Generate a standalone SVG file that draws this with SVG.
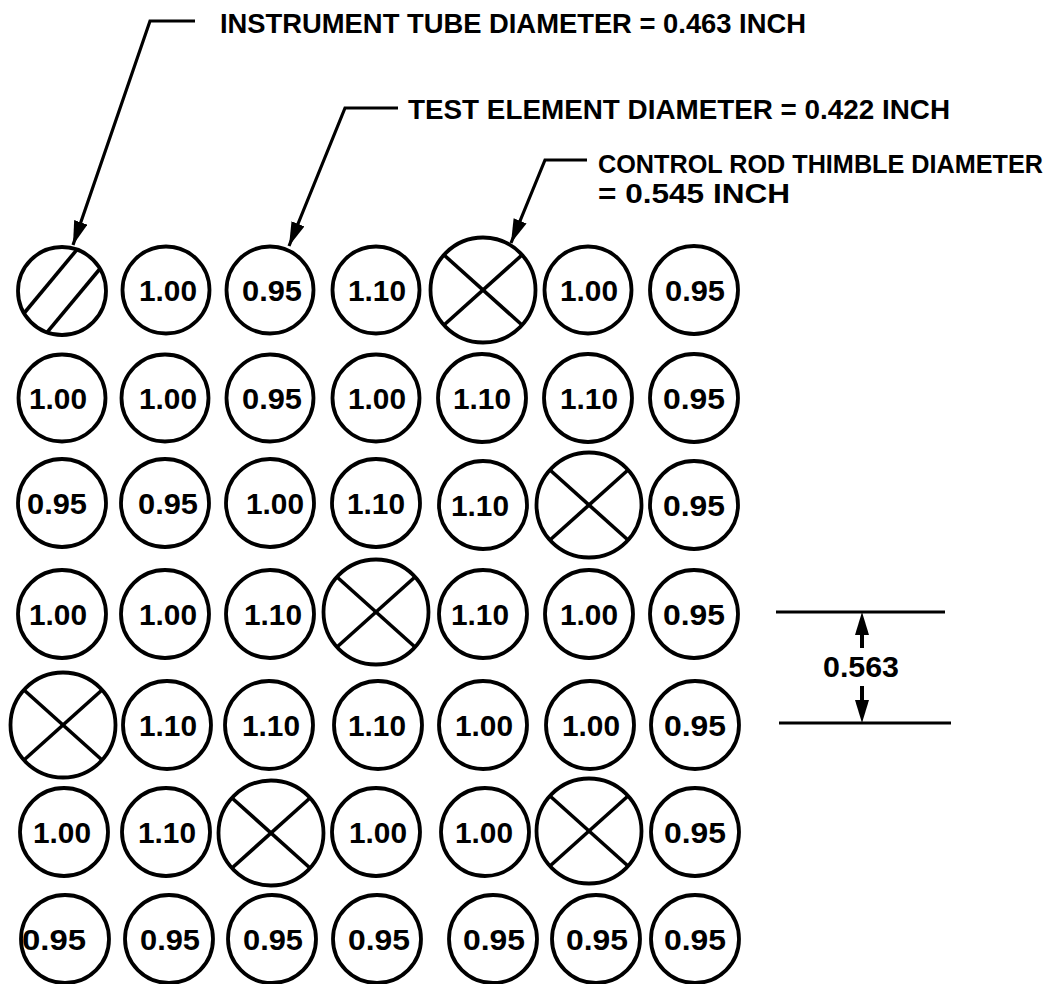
<svg xmlns="http://www.w3.org/2000/svg" xmlns:xlink="http://www.w3.org/1999/xlink" width="1054" height="984" viewBox="0 0 1054 984">
<style>
.c{fill:none;stroke:#000;stroke-width:3.8}
.x{stroke:#000;stroke-width:3.6;stroke-linecap:butt}
.v{font-family:"Liberation Sans",Arial,sans-serif;font-weight:bold;font-size:29px;text-anchor:middle;fill:#000}
.lbl{font-family:"Liberation Sans",Arial,sans-serif;font-weight:bold;font-size:28px;fill:#000}
.ld{fill:none;stroke:#000;stroke-width:3.2;stroke-linejoin:miter}
.dim{stroke:#000;stroke-width:3.2}
.stem{stroke:#000;stroke-width:4}
</style>
<defs>
<marker id="ah" markerUnits="userSpaceOnUse" markerWidth="26" markerHeight="16" refX="24" refY="7" orient="auto">
<path d="M0,0 L24,7 L0,14 Z" fill="#000"/>
</marker>
<g id="crt">
<circle class="c" cx="0" cy="0" r="52.5"/>
<line class="x" x1="-39" y1="-35" x2="39" y2="35"/>
<line class="x" x1="39" y1="-35" x2="-39" y2="35"/>
</g>
</defs>
<rect width="1054" height="984" fill="#fff"/>

<g id="labels">
<text class="lbl" x="220" y="33" textLength="586" lengthAdjust="spacingAndGlyphs">INSTRUMENT TUBE DIAMETER = 0.463 INCH</text>
<text class="lbl" x="408" y="119" textLength="542" lengthAdjust="spacingAndGlyphs">TEST ELEMENT DIAMETER = 0.422 INCH</text>
<text class="lbl" x="598" y="173" style="font-size:25.5px" textLength="445" lengthAdjust="spacingAndGlyphs">CONTROL ROD THIMBLE DIAMETER</text>
<text class="lbl" x="598" y="203" textLength="192" lengthAdjust="spacingAndGlyphs">= 0.545 INCH</text>
</g>

<g id="connectors">
<path class="ld" d="M195,21 L150,21 L73,245" marker-end="url(#ah)"/>
<path class="ld" d="M398,108 L345,108 L289,246" marker-end="url(#ah)"/>
<path class="ld" d="M587,160 L545,160 L511,243" marker-end="url(#ah)"/>
<g id="dimension">
<line class="dim" x1="776" y1="612" x2="945" y2="612"/>
<line class="dim" x1="779" y1="723" x2="951" y2="723"/>
<line class="stem" x1="862" y1="630" x2="862" y2="648"/>
<polygon points="862,612 855,635 869,635" fill="#000"/>
<line class="stem" x1="862" y1="686" x2="862" y2="705"/>
<polygon points="862,723 855,700 869,700" fill="#000"/>
<text class="v" x="861" y="677" textLength="76" lengthAdjust="spacingAndGlyphs">0.563</text>
</g>
</g>

<!-- Row 1 -->
<g id="r1c1"><circle class="c" cx="62" cy="291" r="44"/><line class="x" x1="77.6" y1="248.8" x2="23.4" y2="314"/><line class="x" x1="100.6" y1="268" x2="46.4" y2="333.2"/></g>
<g id="r1c2"><circle class="c" cx="166" cy="290" r="43.5"/><text class="v" x="168" y="300.5" textLength="58" lengthAdjust="spacingAndGlyphs">1.00</text></g>
<g id="r1c3"><circle class="c" cx="270" cy="290" r="43.5"/><text class="v" x="272" y="300.5" textLength="60" lengthAdjust="spacingAndGlyphs">0.95</text></g>
<g id="r1c4"><circle class="c" cx="376" cy="290" r="43.5"/><text class="v" x="377" y="300.5" textLength="58" lengthAdjust="spacingAndGlyphs">1.10</text></g>
<g id="r1c5"><use xlink:href="#crt" x="483" y="290"/></g>
<g id="r1c6"><circle class="c" cx="588" cy="290" r="43.5"/><text class="v" x="589" y="300.5" textLength="58" lengthAdjust="spacingAndGlyphs">1.00</text></g>
<g id="r1c7"><circle class="c" cx="694" cy="290" r="44"/><text class="v" x="695" y="300.5" textLength="60" lengthAdjust="spacingAndGlyphs">0.95</text></g>

<!-- Row 2 -->
<g id="r2c1"><circle class="c" cx="62" cy="398" r="43.5"/><text class="v" x="58" y="408.5" textLength="58" lengthAdjust="spacingAndGlyphs">1.00</text></g>
<g id="r2c2"><circle class="c" cx="165" cy="398" r="43.5"/><text class="v" x="168" y="408.5" textLength="58" lengthAdjust="spacingAndGlyphs">1.00</text></g>
<g id="r2c3"><circle class="c" cx="270" cy="398" r="43.5"/><text class="v" x="272" y="408.5" textLength="60" lengthAdjust="spacingAndGlyphs">0.95</text></g>
<g id="r2c4"><circle class="c" cx="376" cy="398" r="43.5"/><text class="v" x="377" y="408.5" textLength="58" lengthAdjust="spacingAndGlyphs">1.00</text></g>
<g id="r2c5"><circle class="c" cx="482" cy="398" r="44"/><text class="v" x="482" y="408.5" textLength="58" lengthAdjust="spacingAndGlyphs">1.10</text></g>
<g id="r2c6"><circle class="c" cx="588" cy="398" r="44"/><text class="v" x="589" y="408.5" textLength="58" lengthAdjust="spacingAndGlyphs">1.10</text></g>
<g id="r2c7"><circle class="c" cx="694" cy="398" r="44"/><text class="v" x="694" y="408.5" textLength="62" lengthAdjust="spacingAndGlyphs">0.95</text></g>

<!-- Row 3 -->
<g id="r3c1"><circle class="c" cx="62" cy="503" r="44"/><text class="v" x="57" y="513.5" textLength="60" lengthAdjust="spacingAndGlyphs">0.95</text></g>
<g id="r3c2"><circle class="c" cx="165" cy="503" r="44"/><text class="v" x="168" y="513.5" textLength="60" lengthAdjust="spacingAndGlyphs">0.95</text></g>
<g id="r3c3"><circle class="c" cx="270" cy="503" r="44"/><text class="v" x="275" y="513.5" textLength="58" lengthAdjust="spacingAndGlyphs">1.00</text></g>
<g id="r3c4"><circle class="c" cx="376" cy="503" r="44"/><text class="v" x="376" y="513.5" textLength="58" lengthAdjust="spacingAndGlyphs">1.10</text></g>
<g id="r3c5"><circle class="c" cx="483" cy="505" r="44"/><text class="v" x="480" y="515.5" textLength="58" lengthAdjust="spacingAndGlyphs">1.10</text></g>
<g id="r3c6"><use xlink:href="#crt" x="589" y="505"/></g>
<g id="r3c7"><circle class="c" cx="694" cy="505" r="44"/><text class="v" x="694" y="515.5" textLength="62" lengthAdjust="spacingAndGlyphs">0.95</text></g>

<!-- Row 4 -->
<g id="r4c1"><circle class="c" cx="62" cy="614" r="44"/><text class="v" x="58" y="624.5" textLength="58" lengthAdjust="spacingAndGlyphs">1.00</text></g>
<g id="r4c2"><circle class="c" cx="165" cy="614" r="44"/><text class="v" x="168" y="624.5" textLength="58" lengthAdjust="spacingAndGlyphs">1.00</text></g>
<g id="r4c3"><circle class="c" cx="270" cy="614" r="44"/><text class="v" x="273" y="624.5" textLength="58" lengthAdjust="spacingAndGlyphs">1.10</text></g>
<g id="r4c4"><use xlink:href="#crt" x="376" y="612"/></g>
<g id="r4c5"><circle class="c" cx="483" cy="614" r="44"/><text class="v" x="480" y="624.5" textLength="58" lengthAdjust="spacingAndGlyphs">1.10</text></g>
<g id="r4c6"><circle class="c" cx="589" cy="614" r="44"/><text class="v" x="589" y="624.5" textLength="58" lengthAdjust="spacingAndGlyphs">1.00</text></g>
<g id="r4c7"><circle class="c" cx="694" cy="614" r="44"/><text class="v" x="694" y="624.5" textLength="62" lengthAdjust="spacingAndGlyphs">0.95</text></g>

<!-- Row 5 -->
<g id="r5c1"><use xlink:href="#crt" x="63" y="725"/></g>
<g id="r5c2"><circle class="c" cx="167" cy="725" r="44"/><text class="v" x="168" y="735.5" textLength="58" lengthAdjust="spacingAndGlyphs">1.10</text></g>
<g id="r5c3"><circle class="c" cx="269" cy="725" r="44"/><text class="v" x="271" y="735.5" textLength="58" lengthAdjust="spacingAndGlyphs">1.10</text></g>
<g id="r5c4"><circle class="c" cx="378" cy="725" r="44"/><text class="v" x="377" y="735.5" textLength="58" lengthAdjust="spacingAndGlyphs">1.10</text></g>
<g id="r5c5"><circle class="c" cx="483" cy="725" r="44"/><text class="v" x="484" y="735.5" textLength="58" lengthAdjust="spacingAndGlyphs">1.00</text></g>
<g id="r5c6"><circle class="c" cx="590" cy="725" r="44"/><text class="v" x="591" y="735.5" textLength="58" lengthAdjust="spacingAndGlyphs">1.00</text></g>
<g id="r5c7"><circle class="c" cx="695" cy="725" r="44"/><text class="v" x="695" y="735.5" textLength="62" lengthAdjust="spacingAndGlyphs">0.95</text></g>

<!-- Row 6 -->
<g id="r6c1"><circle class="c" cx="64" cy="832" r="44"/><text class="v" x="62" y="842.5" textLength="58" lengthAdjust="spacingAndGlyphs">1.00</text></g>
<g id="r6c2"><circle class="c" cx="166" cy="832" r="44"/><text class="v" x="167" y="842.5" textLength="58" lengthAdjust="spacingAndGlyphs">1.10</text></g>
<g id="r6c3"><use xlink:href="#crt" x="271" y="833"/></g>
<g id="r6c4"><circle class="c" cx="376" cy="832" r="44"/><text class="v" x="378" y="842.5" textLength="58" lengthAdjust="spacingAndGlyphs">1.00</text></g>
<g id="r6c5"><circle class="c" cx="485" cy="832" r="44"/><text class="v" x="484" y="842.5" textLength="58" lengthAdjust="spacingAndGlyphs">1.00</text></g>
<g id="r6c6"><use xlink:href="#crt" x="589" y="831"/></g>
<g id="r6c7"><circle class="c" cx="695" cy="832" r="44"/><text class="v" x="695" y="842.5" textLength="62" lengthAdjust="spacingAndGlyphs">0.95</text></g>

<!-- Row 7 -->
<g id="r7c1"><circle class="c" cx="65" cy="939" r="44"/><text class="v" x="54" y="949.5" textLength="64" lengthAdjust="spacingAndGlyphs">0.95</text></g>
<g id="r7c2"><circle class="c" cx="169" cy="939" r="44"/><text class="v" x="170" y="949.5" textLength="60" lengthAdjust="spacingAndGlyphs">0.95</text></g>
<g id="r7c3"><circle class="c" cx="272" cy="939" r="44"/><text class="v" x="273" y="949.5" textLength="60" lengthAdjust="spacingAndGlyphs">0.95</text></g>
<g id="r7c4"><circle class="c" cx="377" cy="939" r="44"/><text class="v" x="379" y="949.5" textLength="62" lengthAdjust="spacingAndGlyphs">0.95</text></g>
<g id="r7c5"><circle class="c" cx="493" cy="939" r="44"/><text class="v" x="494" y="949.5" textLength="62" lengthAdjust="spacingAndGlyphs">0.95</text></g>
<g id="r7c6"><circle class="c" cx="596" cy="939" r="44"/><text class="v" x="597" y="949.5" textLength="62" lengthAdjust="spacingAndGlyphs">0.95</text></g>
<g id="r7c7"><circle class="c" cx="695" cy="939" r="44"/><text class="v" x="695" y="949.5" textLength="62" lengthAdjust="spacingAndGlyphs">0.95</text></g>
</svg>
